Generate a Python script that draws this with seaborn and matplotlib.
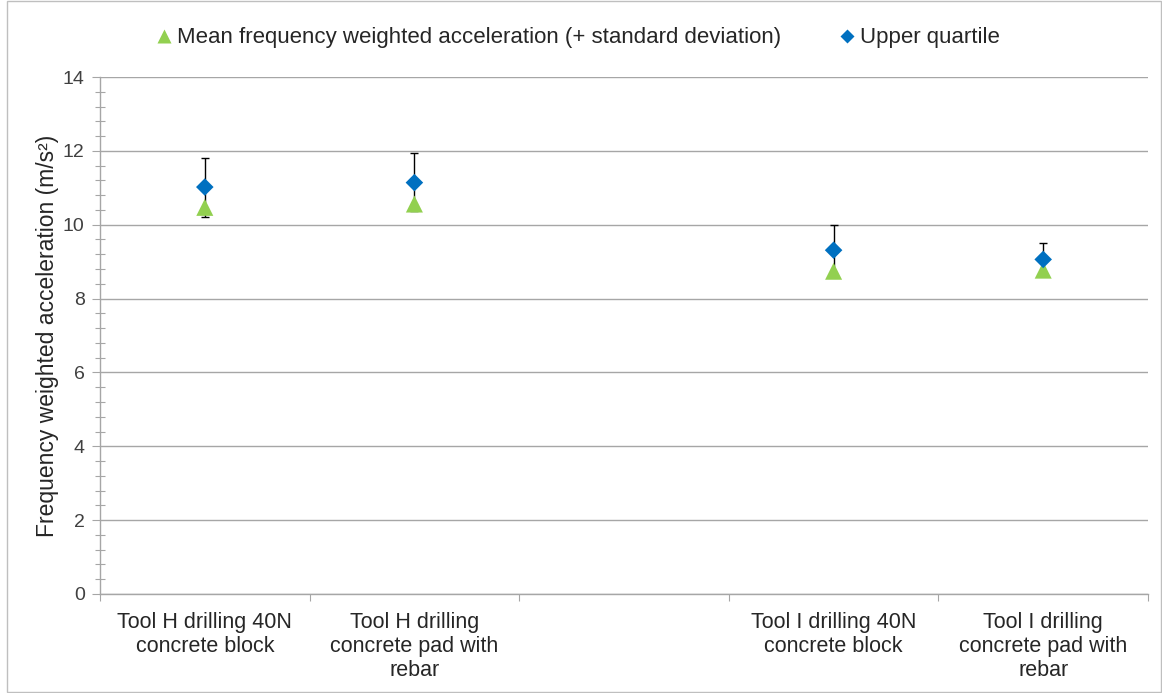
import matplotlib
matplotlib.use("Agg")
import matplotlib.pyplot as plt
from matplotlib.ticker import MultipleLocator, FixedLocator
from matplotlib.patches import Rectangle
from matplotlib.lines import Line2D
import seaborn as sns
import pandas as pd
import numpy as np

# ---- data ----
tick_labels = [
    "Tool H drilling 40N\nconcrete block",
    "Tool H drilling\nconcrete pad with\nrebar",
    "",
    "Tool I drilling 40N\nconcrete block",
    "Tool I drilling\nconcrete pad with\nrebar",
]
mean_accel = [10.47, 10.56, np.nan, 8.74, 8.77]
sd_plus = [1.34, 1.37, np.nan, 1.26, 0.73]
sd_minus = [0.26, 0.19, np.nan, 0.10, 0.10]
upper_quartile = [11.02, 11.14, np.nan, 9.31, 9.06]

mean_label = "Mean frequency weighted acceleration (+ standard deviation)"
uq_label = "Upper quartile"
y_label = "Frequency weighted acceleration (m/s²)"

green = "#92D050"
blue = "#0070C0"
grid_gray = "#A6A6A6"

sns.set_theme(style="white")
plt.rcParams["font.family"] = ["Liberation Sans", "DejaVu Sans"]

df = pd.DataFrame({
    "pos": np.arange(len(tick_labels)),
    "mean": mean_accel,
    "plus": sd_plus,
    "minus": sd_minus,
    "uq": upper_quartile,
}).dropna()

fig = plt.figure(figsize=(11.62, 6.93), dpi=100)
ax = fig.add_axes([100 / 1162, 1 - 594 / 693, 1048 / 1162, (594 - 77) / 693])

# error bars (behind markers)
ax.errorbar(df["pos"], df["mean"], yerr=[df["minus"], df["plus"]], fmt="none",
            ecolor="black", elinewidth=1.0, capsize=3, capthick=1.0, zorder=2)

sns.scatterplot(data=df, x="pos", y="mean", marker="^", s=150, color=green,
                edgecolor="none", ax=ax, zorder=3, legend=False)
sns.scatterplot(data=df, x="pos", y="uq", marker="D", s=80, color=blue,
                edgecolor="none", ax=ax, zorder=4, legend=False)

ax.set_xlim(-0.5, len(tick_labels) - 0.5)
ax.set_ylim(0, 14)

# y axis
ax.yaxis.set_major_locator(MultipleLocator(2))
ax.yaxis.set_minor_locator(MultipleLocator(0.4))
ax.tick_params(axis="y", which="major", direction="out", length=6, width=0.8,
               color=grid_gray, labelsize=14, pad=5, labelcolor="#404040", left=True)
ax.tick_params(axis="y", which="minor", direction="inout", length=7, width=0.8,
               color=grid_gray, left=True)
ax.grid(axis="y", which="major", color=grid_gray, linewidth=1.0)
ax.set_axisbelow(True)

# x axis: ticks at slot boundaries, labels at slot centres
ax.xaxis.set_major_locator(FixedLocator(np.arange(-0.5, len(tick_labels), 1.0)))
ax.xaxis.set_major_formatter(plt.NullFormatter())
ax.xaxis.set_minor_locator(FixedLocator(np.arange(len(tick_labels))))
ax.set_xticklabels(tick_labels, minor=True, fontsize=15.5, linespacing=1.2, color="#262626")
ax.tick_params(axis="x", which="major", direction="out", length=5, width=0.8,
               color=grid_gray, bottom=True)
ax.tick_params(axis="x", which="minor", length=0, pad=13, bottom=True)

for side in ["top", "right"]:
    ax.spines[side].set_visible(False)
for side in ["left", "bottom"]:
    ax.spines[side].set_color(grid_gray)
    ax.spines[side].set_linewidth(1.0)

ax.set_xlabel("")
ax.set_ylabel(y_label, fontsize=16.5, color="#262626", labelpad=3)

# legend
handles = [
    Line2D([], [], linestyle="none", marker="^", markersize=10, color=green, markeredgecolor="none"),
    Line2D([], [], linestyle="none", marker="D", markersize=7, color=blue, markeredgecolor="none"),
]
fig.legend(handles, [mean_label, uq_label], loc="center", bbox_to_anchor=(0.497, 1 - 38 / 693),
           ncol=2, frameon=False, fontsize=16, handletextpad=0.15, columnspacing=2.6,
           handlelength=0.8, labelcolor="#262626")

# chart border
fig.patches.append(Rectangle((0.006, 0.001), 0.993, 0.998, transform=fig.transFigure,
                             fill=False, edgecolor="#BFBFBF", linewidth=1.0))

fig.savefig("out.png", dpi=100)
